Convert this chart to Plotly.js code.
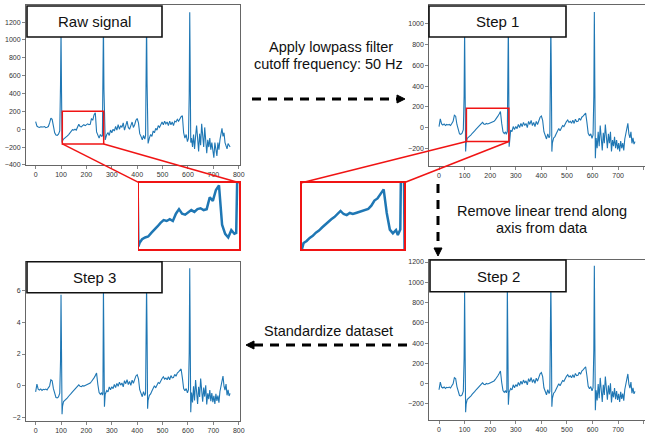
<!DOCTYPE html>
<html><head><meta charset="utf-8">
<script src="https://cdn.plot.ly/plotly-3.0.1.min.js"></script>
<style>html,body{margin:0;padding:0;background:#fff;}#chart{width:645px;height:439px;}</style>
</head><body><div id="chart"></div>
<script>
// ---------- data ----------
const sampleIdx = [
  0,5,10,15,20,25,30,35,40,45,
  50,55,60,65,70,75,80,85,90,95,
  98,100,102,104,106,110,115,120,125,130,
  135,140,145,150,155,160,165,170,175,180,
  185,190,195,200,205,210,215,220,225,230,
  235,240,245,250,255,260,263,265,267,269,
  271,274,280,285,290,295,300,305,310,315,
  320,325,330,335,340,345,350,355,360,365,
  370,375,380,385,390,395,400,405,410,415,
  420,425,430,433,435,437,439,441,443,448,
  453,458,463,468,473,478,483,488,493,498,
  503,508,513,518,523,528,533,538,543,548,
  553,558,563,568,573,578,583,588,593,598,
  602,605,607,609,611,614,618,622,626,630,
  634,638,642,646,650,654,658,662,666,670,
  674,678,682,686,690,694,698,702,706,710,
  714,718,722,726,730,734,738,742,746,750,
  754,758,762,766];

const rawSignal = [
  85,35,25,20,28,22,25,30,18,22,
  30,70,125,110,40,-40,-65,-70,-55,-20,
  500,1100,400,-150,-130,-110,-100,-95,-75,-60,
  -40,-20,-5,-10,0,-10,30,55,30,25,
  40,50,40,55,60,50,55,120,100,160,
  185,-30,-80,-100,-60,-80,-75,300,1200,450,
  -100,-120,-60,-40,-70,-10,-40,0,-20,30,
  -10,50,0,40,20,70,-10,60,90,20,
  0,40,80,20,50,100,120,70,-50,-80,
  -120,-70,-110,-70,300,1200,500,-100,-160,-100,
  -60,-80,-20,-40,10,-10,40,20,60,80,
  50,90,60,80,40,90,50,80,40,90,
  80,110,90,120,140,150,-40,-100,-60,-140,
  -100,400,1310,600,-150,-100,-200,-60,-220,-80,
  40,-100,-250,-50,-180,60,-80,-200,20,-150,
  -270,-120,-200,-100,-230,-150,-260,-320,-150,-250,
  -300,-150,-230,-120,-60,10,-80,-40,-150,-200,
  -220,-160,-190,-200];

const step1Filtered = [
  10,85,35,25,35,20,30,25,30,20,
  40,60,120,110,30,-20,-60,-65,-55,-20,
  300,950,500,-230,-150,-105,-95,-80,-70,-55,
  -45,-30,-15,-2,10,20,35,50,35,30,
  40,35,40,45,50,54,60,75,100,110,
  130,154,40,-40,-58,-42,-66,-55,-40,500,
  1015,-184,-25,-40,10,-20,10,-10,30,0,
  40,10,50,20,40,0,60,30,70,20,
  50,10,60,30,70,100,112,70,-40,-80,
  -110,-60,-100,-80,300,995,500,-232,-150,-100,
  -87,-60,-40,-10,-30,0,20,10,40,58,
  73,50,60,41,70,40,80,57,60,90,
  70,100,110,122,140,50,-55,-80,-60,-103,
  -70,300,1115,400,-296,-100,-200,-40,-180,20,
  -120,-220,-50,-150,30,-100,-200,-60,-150,-40,
  -230,-120,-180,-90,-200,-120,-210,-150,-230,-130,
  -200,-150,-220,-110,-60,-20,41,-60,-100,-40,
  -152,-100,-160,-136];

const step2Detrended = [
  -60,16,-33,-42,-32,-46,-35,-39,-33,-42,
  -21,-1,60,51,-28,-77,-116,-120,-110,-74,
  247,920,447,-282,-202,-156,-146,-130,-119,-103,
  -92,-76,-60,-47,-34,-23,-7,9,-5,-9,
  2,-3,3,9,15,20,27,42,68,79,
  100,125,12,-68,-85,-68,-91,-75,990,376,
  -208,-83,-47,-62,-11,-40,-9,-28,13,-17,
  24,-5,36,7,28,-11,50,20,61,12,
  43,4,55,25,66,97,110,69,-40,-80,
  -109,-58,-97,-76,304,1000,505,-227,-145,-94,
  -80,-52,-31,0,-20,11,32,23,54,73,
  89,66,77,59,89,60,101,79,82,113,
  94,125,136,149,167,78,-26,-50,-29,-71,
  -38,333,1163,433,-262,-66,-165,-4,-144,57,
  -82,-181,-11,-110,70,-59,-158,-17,-107,4,
  -185,-75,-134,-43,-153,-72,-161,-101,-180,-79,
  -149,-98,-167,-57,-6,35,96,-4,-43,17,
  -94,-41,-100,-76];

const step3Standardized = [
  -0.38,0.10,-0.21,-0.27,-0.20,-0.29,-0.22,-0.25,-0.21,-0.27,
  -0.13,-0.01,0.38,0.32,-0.18,-0.49,-0.74,-0.76,-0.70,-0.47,
  1.57,5.73,2.85,-1.80,-1.29,-0.99,-0.93,-0.83,-0.76,-0.66,
  -0.59,-0.48,-0.38,-0.30,-0.22,-0.15,-0.04,0.06,-0.03,-0.06,
  0.01,-0.02,0.02,0.06,0.10,0.13,0.17,0.27,0.43,0.50,
  0.64,0.80,0.08,-0.43,-0.54,-0.43,-0.58,-0.48,6.31,2.39,
  -1.32,-0.53,-0.30,-0.39,-0.07,-0.25,-0.06,-0.18,0.08,-0.11,
  0.15,-0.03,0.23,0.04,0.18,-0.07,0.32,0.13,0.39,0.08,
  0.27,0.03,0.35,0.16,0.42,0.62,0.70,0.44,-0.25,-0.51,
  -0.69,-0.37,-0.62,-0.48,1.94,6.37,3.22,-1.45,-0.92,-0.60,
  -0.51,-0.33,-0.20,0.00,-0.13,0.07,0.20,0.15,0.34,0.46,
  0.57,0.42,0.49,0.38,0.57,0.38,0.64,0.50,0.52,0.72,
  0.60,0.80,0.87,0.95,1.06,0.50,-0.17,-0.32,-0.18,-0.45,
  -0.24,2.12,7.41,2.76,-1.67,-0.42,-1.05,-0.03,-0.92,0.36,
  -0.52,-1.15,-0.07,-0.70,0.45,-0.38,-1.01,-0.11,-0.68,0.03,
  -1.18,-0.48,-0.85,-0.27,-0.97,-0.46,-1.03,-0.64,-1.15,-0.50,
  -0.95,-0.62,-1.06,-0.36,-0.04,0.22,0.61,-0.03,-0.27,0.11,
  -0.60,-0.26,-0.64,-0.48];

// zoom windows (data coordinates)
const rawZoomX = [105, 268];
const rawZoomY = [-165, 200];
const step1ZoomX = [107, 273];
const step1ZoomY = [-135, 186];

// tick values
const xTicks = [0,100,200,300,400,500,600,700,800];
const rawYTicks = [-400,-200,0,200,400,600,800,1000,1200];
const step1YTicks = [-200,0,200,400,600,800,1000];
const step2YTicks = [-200,0,200,400,600,800,1000,1200];
const step3YTicks = [-2,0,2,4,6];

// texts
const panelTitles = ['Raw signal', 'Step 1', 'Step 2', 'Step 3'];
const lowpassText = ['Apply lowpass filter', 'cutoff frequency: 50 Hz'];
const detrendText = ['Remove linear trend along', 'axis from data'];
const standardizeText = 'Standardize dataset';

// ---------- layout helpers ----------
const W = 645, H = 439;
const PX = v => v / W;
const PY = v => 1 - v / H;
const BLUE = '#1f77b4', RED = '#f01414', AX = '#666';
const FONT = 'Liberation Sans, Arial, sans-serif';
const XR = [-38, 805];

function mainX(x0, x1, anchor) {
  return {domain:[PX(x0), Math.min(1, PX(x1))], range:XR, anchor:anchor,
    tickmode:'array', tickvals:xTicks, ticktext:xTicks.map(String),
    ticks:'outside', ticklen:3, tickwidth:0.8, tickcolor:AX,
    showline:true, mirror:true, linecolor:AX, linewidth:1,
    showgrid:false, zeroline:false, fixedrange:true,
    tickfont:{family:FONT, size:7, color:'#333'}};
}
function mainY(y0, y1, range, ticks, anchor) {
  return {domain:[PY(y1), PY(y0)], range:range, anchor:anchor,
    tickmode:'array', tickvals:ticks, ticktext:ticks.map(t => t < 0 ? '\u2212' + Math.abs(t) : String(t)),
    ticks:'outside', ticklen:3, tickwidth:0.8, tickcolor:AX,
    showline:true, mirror:true, linecolor:AX, linewidth:1,
    showgrid:false, zeroline:false, fixedrange:true,
    tickfont:{family:FONT, size:7, color:'#333'}};
}
function insetAxis(dom, range, anchor) {
  return {domain:dom, range:range, anchor:anchor, showticklabels:false, ticks:'',
    showline:true, mirror:true, linecolor:RED, linewidth:1.5,
    showgrid:false, zeroline:false, fixedrange:true};
}

const layout = {
  width:W, height:H, margin:{l:0,r:0,t:0,b:0},
  paper_bgcolor:'#fff', plot_bgcolor:'#fff', showlegend:false,
  xaxis:  mainX(26, 240, 'y'),
  yaxis:  mainY(5, 165, [-401, 1391], rawYTicks, 'x'),
  xaxis2: mainX(429.3, 645, 'y2'),
  yaxis2: mainY(5, 165.7, [-368, 1183], step1YTicks, 'x2'),
  xaxis3: mainX(429.3, 645, 'y3'),
  yaxis3: mainY(260, 420, [-358, 1220], step2YTicks, 'x3'),
  xaxis4: mainX(26, 240, 'y4'),
  yaxis4: mainY(261.7, 421, [-2.22, 7.82], step3YTicks, 'x4'),
  xaxis5: insetAxis([PX(139), PX(239.3)], rawZoomX, 'y5'),
  yaxis5: insetAxis([PY(249.3), PY(182.7)], rawZoomY, 'x5'),
  xaxis6: insetAxis([PX(301.7), PX(404)], step1ZoomX, 'y6'),
  yaxis6: insetAxis([PY(249.3), PY(182.7)], step1ZoomY, 'x6'),
};

function d2p(ax, v) {
  const r = ax.range, d = ax.domain;
  return d[0] + (v - r[0]) / (r[1] - r[0]) * (d[1] - d[0]);
}

const shapes = [];
shapes.push({type:'rect', xref:'x', yref:'y', x0:rawZoomX[0], x1:rawZoomX[1], y0:rawZoomY[0], y1:rawZoomY[1], line:{color:RED, width:1.5}});
shapes.push({type:'rect', xref:'x2', yref:'y2', x0:step1ZoomX[0], x1:step1ZoomX[1], y0:step1ZoomY[0], y1:step1ZoomY[1], line:{color:RED, width:1.5}});
function connector(axX, axY, dx, dy, insetX, insetY, ix, iy) {
  shapes.push({type:'line', xref:'paper', yref:'paper',
    x0:d2p(axX, dx), y0:d2p(axY, dy), x1:d2p(insetX, ix), y1:d2p(insetY, iy),
    line:{color:RED, width:1.5}});
}
connector(layout.xaxis, layout.yaxis, rawZoomX[0], rawZoomY[0], layout.xaxis5, layout.yaxis5, rawZoomX[0], rawZoomY[1]);
connector(layout.xaxis, layout.yaxis, rawZoomX[1], rawZoomY[0], layout.xaxis5, layout.yaxis5, rawZoomX[1], rawZoomY[1]);
connector(layout.xaxis2, layout.yaxis2, step1ZoomX[0], step1ZoomY[0], layout.xaxis6, layout.yaxis6, step1ZoomX[0], step1ZoomY[1]);
connector(layout.xaxis2, layout.yaxis2, step1ZoomX[1], step1ZoomY[0], layout.xaxis6, layout.yaxis6, step1ZoomX[1], step1ZoomY[1]);

// white text-box background overlapping step-1 tick labels
shapes.push({type:'rect', xref:'paper', yref:'paper', x0:PX(250), x1:PX(412), y0:PY(75), y1:PY(36), fillcolor:'#fff', line:{width:0}});

// title boxes
const boxes = [[27,162,6,37],[429,566,6,37],[430,566,260,291.7],[27,162,261.7,292.7]];
boxes.forEach(b => shapes.push({type:'rect', xref:'paper', yref:'paper', x0:PX(b[0]), x1:PX(b[1]), y0:PY(b[3]), y1:PY(b[2]), fillcolor:'#fff', line:{color:'#111', width:1.6}}));

function dashLine(x0, y0, x1, y1) {
  shapes.push({type:'line', xref:'paper', yref:'paper', x0:PX(x0), y0:PY(y0), x1:PX(x1), y1:PY(y1), line:{color:'#000', width:3, dash:'9px,7px'}});
}
function head(pts) {
  const p = pts.map((q, i) => (i ? 'L' : 'M') + PX(q[0]).toFixed(5) + ',' + PY(q[1]).toFixed(5)).join(' ') + ' Z';
  shapes.push({type:'path', xref:'paper', yref:'paper', path:p, fillcolor:'#000', line:{color:'#000', width:1}});
}
dashLine(252, 99, 398, 99);   head([[405,99],[397,95],[397,103]]);
dashLine(438, 184, 438, 249); head([[438,256],[434,248],[442,248]]);
dashLine(407, 345, 254, 345); head([[246,345],[254,341],[254,349]]);
layout.shapes = shapes;

const ann = [];
function txt(s, x, y, size) {
  ann.push({text:s, xref:'paper', yref:'paper', x:PX(x), y:PY(y), xanchor:'center', yanchor:'middle', showarrow:false, font:{family:FONT, size:size || 14.5, color:'#111'}});
}
txt(panelTitles[0], 94.5, 21.5, 15);
txt(panelTitles[1], 497.5, 21.5, 15);
txt(panelTitles[2], 498, 276, 15);
txt(panelTitles[3], 94.5, 277.2, 15);
txt(lowpassText[0], 331, 47);
txt(lowpassText[1], 328, 64);
txt(detrendText[0], 542, 211);
txt(detrendText[1], 542, 228);
txt(standardizeText, 328, 331);
layout.annotations = ann;

const traces = [
  {x:sampleIdx, y:rawSignal, xaxis:'x', yaxis:'y', mode:'lines', line:{color:BLUE, width:1.1}},
  {x:sampleIdx, y:step1Filtered, xaxis:'x2', yaxis:'y2', mode:'lines', line:{color:BLUE, width:1.1}},
  {x:sampleIdx, y:step2Detrended, xaxis:'x3', yaxis:'y3', mode:'lines', line:{color:BLUE, width:1.1}},
  {x:sampleIdx, y:step3Standardized, xaxis:'x4', yaxis:'y4', mode:'lines', line:{color:BLUE, width:1.1}},
  {x:sampleIdx, y:rawSignal, xaxis:'x5', yaxis:'y5', mode:'lines', line:{color:BLUE, width:2.5}},
  {x:sampleIdx, y:step1Filtered, xaxis:'x6', yaxis:'y6', mode:'lines', line:{color:BLUE, width:2.5}},
];

Plotly.newPlot('chart', traces, layout, {staticPlot:true, displayModeBar:false});
</script></body></html>
